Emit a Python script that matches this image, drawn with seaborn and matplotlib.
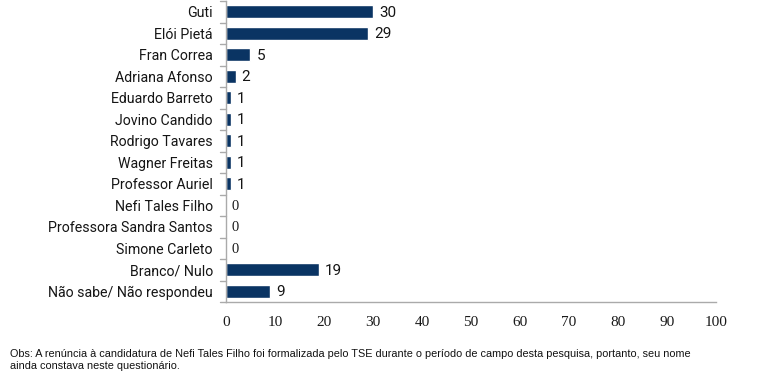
import matplotlib
matplotlib.use("Agg")
import matplotlib.pyplot as plt
import seaborn as sns
import pandas as pd
import numpy as np

candidates = ["Guti", "Elói Pietá", "Fran Correa", "Adriana Afonso", "Eduardo Barreto",
              "Jovino Candido", "Rodrigo Tavares", "Wagner Freitas", "Professor Auriel",
              "Nefi Tales Filho", "Professora Sandra Santos", "Simone Carleto",
              "Branco/ Nulo", "Não sabe/ Não respondeu"]
values = [30, 29, 5, 2, 1, 1, 1, 1, 1, 0, 0, 0, 19, 9]
x_ticks = [0, 10, 20, 30, 40, 50, 60, 70, 80, 90, 100]
note = ("Obs: A renúncia à candidatura de Nefi Tales Filho foi formalizada pelo TSE durante o período de campo desta pesquisa, portanto, seu nome\n"
        "ainda constava neste questionário.")

sns.set_style("white")
plt.rcParams['font.family'] = ['DejaVu Sans']

df = pd.DataFrame({"cand": candidates, "val": values})

fig = plt.figure(figsize=(7.6, 3.75), dpi=100)
ax = fig.add_axes([226/760, 1 - 302/375, 490/760, 301/375])

bar_color = "#0a3463"
sns.barplot(data=df, y="cand", x="val", orient="h", color=bar_color,
            width=0.6, ax=ax, saturation=1)

ax.set_xlim(0, 100)
ax.set_ylim(len(candidates) - 0.5, -0.5)
ax.set_xticks(x_ticks)
ax.set_xticklabels([str(t) for t in x_ticks])
for lab in ax.get_xticklabels():
    lab.set_fontfamily("Liberation Serif")
    lab.set_fontsize(11)
    lab.set_color("#1a1a1a")
ax.set_xlabel("")
ax.set_ylabel("")

ax.set_yticks(range(len(candidates)))
ax.set_yticklabels(candidates)
for lab in ax.get_yticklabels():
    lab.set_fontfamily("Roboto")
    lab.set_fontsize(10.2)
    lab.set_color("#151515")
ax.tick_params(axis="y", length=0, pad=9.5)
ax.tick_params(axis="x", length=5, pad=5)
for t in ax.get_xticklines():
    t.set_color("#aaaaaa")

# boundary ticks on the y axis
for b in np.arange(-0.5, len(candidates) + 0.5, 1):
    ax.plot([-1.2, 0], [b, b], color="#aaaaaa", lw=1, clip_on=False)

for s in ["top", "right"]:
    ax.spines[s].set_visible(False)
for s in ["left", "bottom"]:
    ax.spines[s].set_color("#aaaaaa")
    ax.spines[s].set_linewidth(1)

for i, v in enumerate(values):
    if v == 0:
        ax.text(v + 1.2, i + 0.05, "0", va="center", ha="left", fontsize=10.5,
                family="Liberation Serif", color="#1a1a1a")
    else:
        ax.text(v + 1.2, i + 0.05, str(v), va="center", ha="left", fontsize=11,
                family="Roboto", color="#151515")

fig.text(10/760, 1 - 349/375, note, fontsize=7.8, family="Liberation Sans",
         va="top", ha="left", linespacing=1.2, color="#111111")

fig.savefig("out.png", dpi=100, facecolor="white")
